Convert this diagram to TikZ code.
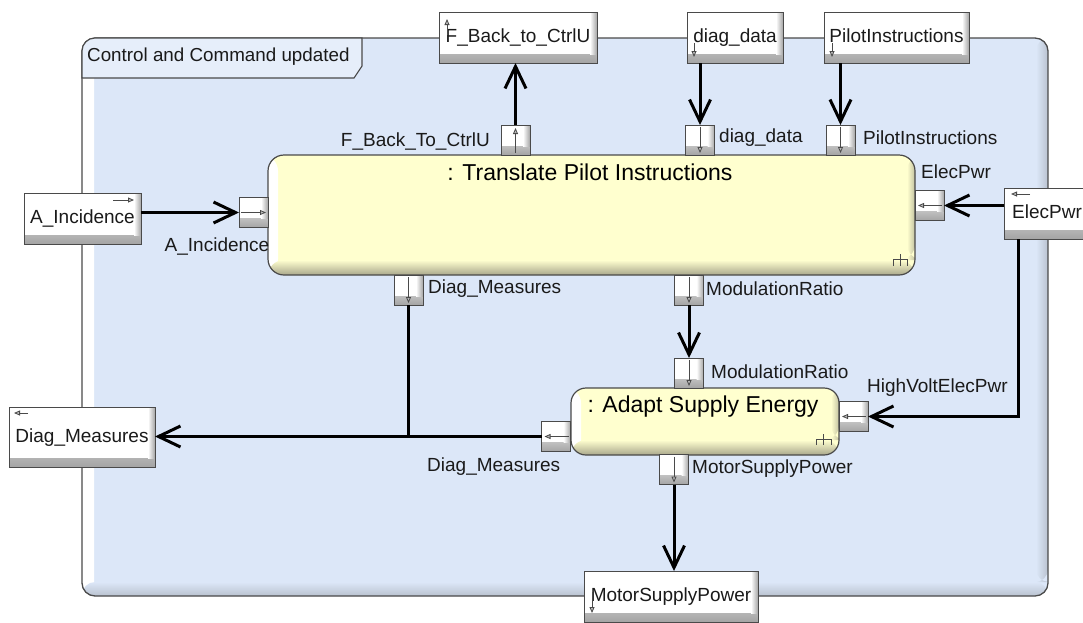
\documentclass[tikz,border=0pt]{standalone}
\usepackage{fontspec}
\setmainfont{Liberation Sans}
\usetikzlibrary{arrows.meta,calc}

\definecolor{ccblue}{HTML}{DCE7F8}
\definecolor{ccshade}{HTML}{B9C2CF}
\definecolor{blkyellow}{HTML}{FFFFCF}
\definecolor{blkshade}{HTML}{A9A78C}
\definecolor{edgegray}{HTML}{4A4A4A}
\definecolor{portshade}{HTML}{A4A4A4}
\definecolor{txt}{HTML}{1A1A1A}

\newcommand{\lblfont}{\fontsize{19}{22}\selectfont}
\newcommand{\ttlfont}{\fontsize{23}{26}\selectfont}

\tikzset{
  % white bevelled box used for boundary ports and block ports
  bevelbox/.style={draw=edgegray, line width=1pt, fill=white, inner sep=0pt, outer sep=0pt,
    path picture={
      \shade[top color=white, bottom color=portshade]
        ([yshift=9pt]path picture bounding box.south west) rectangle (path picture bounding box.south east);
      \shade[left color=white, right color=portshade]
        ([xshift=-7pt]path picture bounding box.north east) rectangle ([yshift=9pt]path picture bounding box.south east);
    }},
  extport/.style={bevelbox, minimum height=51pt, text=txt, font=\lblfont, text height=14pt, text depth=4pt},
  blkport/.style={bevelbox, minimum width=29pt, minimum height=30pt},
  % yellow part blocks
  partblock/.style={draw=edgegray, line width=1.2pt, fill=blkyellow, rounded corners=16pt,
    inner sep=0pt, outer sep=0pt,
    path picture={
      \shade[left color=white, right color=blkyellow]
        (path picture bounding box.south west) rectangle ([xshift=10pt]path picture bounding box.north west);
      \shade[top color=blkyellow, bottom color=blkshade]
        ([yshift=15pt]path picture bounding box.south west) rectangle (path picture bounding box.south east);
      \shade[left color=blkyellow, right color=blkshade!70!blkyellow]
        ([xshift=-8pt]path picture bounding box.north east) rectangle ([yshift=15pt]path picture bounding box.south east);
    }},
  flow/.style={line width=3pt, black, -{Straight Barb[length=22pt,width=21pt]}},
  plainflow/.style={line width=3pt, black},
  icon/.style={draw=edgegray, line width=0.8pt, -{Triangle[length=6pt,width=5pt,fill=gray!55]}},
  rake/.style={draw=edgegray, line width=1pt},
  lbl/.style={font=\lblfont, text=txt, inner sep=0pt},
  ttl/.style={font=\ttlfont, text=black, inner sep=0pt},
}

\begin{document}
\begin{tikzpicture}[x=1pt,y=-1pt]
\useasboundingbox (0,0) rectangle (1083,622);

% ---- enclosing structure "Control and Command updated"
\node[draw=edgegray, line width=1.3pt, fill=ccblue, rounded corners=13pt,
      minimum width=966pt, minimum height=558pt, inner sep=0pt, outer sep=0pt, anchor=north west,
      path picture={
        \shade[left color=white, right color=ccblue]
          (path picture bounding box.south west) rectangle ([xshift=12pt]path picture bounding box.north west);
        \shade[top color=ccblue, bottom color=ccshade]
          ([yshift=14pt]path picture bounding box.south west) rectangle (path picture bounding box.south east);
        \shade[left color=ccblue, right color=ccshade]
          ([xshift=-12pt]path picture bounding box.north east) rectangle ([yshift=14pt]path picture bounding box.south east);
      }] (cc) at (82,38) {};
\draw[draw=edgegray, line width=1.1pt, fill=ccblue!70!white]
  (82,78) [rounded corners=13pt] -- (82,38) [sharp corners] -- (362,38) -- (362,66) -- (354,78) -- cycle;
\node[lbl, anchor=west, font=\fontsize{18.8}{21}\selectfont] (cctitle) at (87,57) {Control and Command updated};

% ---- part blocks
\node[partblock, minimum width=647pt, minimum height=120pt] (tpi) at (591.5,215) {};
\node[ttl] (tpititle) at (590,172) {: Translate Pilot Instructions};
\draw[rake] ([xshift=-22pt,yshift=9pt]tpi.south east) |- ([xshift=-8pt,yshift=16pt]tpi.south east) -- ([xshift=-8pt,yshift=9pt]tpi.south east);
\draw[rake] ([xshift=-15pt,yshift=9pt]tpi.south east) -- ([xshift=-15pt,yshift=21pt]tpi.south east);

\node[partblock, minimum width=268pt, minimum height=67pt, rounded corners=15pt] (ase) at (705,421.5) {};
\node[ttl] (asetitle) at (703,407) {: Adapt Supply Energy};
\draw[rake] ([xshift=-23pt,yshift=10pt]ase.south east) |- ([xshift=-8pt,yshift=16pt]ase.south east) -- ([xshift=-8pt,yshift=10pt]ase.south east);
\draw[rake] ([xshift=-15.5pt,yshift=10pt]ase.south east) -- ([xshift=-15.5pt,yshift=21pt]ase.south east);

% ---- ports of Translate Pilot Instructions
\node[blkport] (pai) at (253.5,212.5) {};
\draw[icon] ([xshift=2pt]pai.west) -- ([xshift=-2pt]pai.east);
\node[blkport] (pfb) at (515.5,140) {};
\draw[icon] ([yshift=2pt]pfb.south) -- ([yshift=-3pt]pfb.north);
\node[blkport] (pdd) at (700,140) {};
\draw[icon] ([yshift=-2pt]pdd.north) -- ([yshift=2pt]pdd.south);
\node[blkport] (ppi) at (840.5,140) {};
\draw[icon] ([yshift=-2pt]ppi.north) -- ([yshift=2pt]ppi.south);
\node[blkport] (pep) at (929.5,205.5) {};
\draw[icon] ([xshift=-2pt]pep.east) -- ([xshift=3pt]pep.west);
\node[blkport] (pdm1) at (408.5,290) {};
\draw[icon] ([yshift=-2pt]pdm1.north) -- ([yshift=2pt]pdm1.south);
\node[blkport] (pmr1) at (689,290) {};
\draw[icon] ([yshift=-2pt]pmr1.north) -- ([yshift=2pt]pmr1.south);

% ---- ports of Adapt Supply Energy
\node[blkport] (pmr2) at (689,373) {};
\draw[icon] ([yshift=-2pt]pmr2.north) -- ([yshift=2pt]pmr2.south);
\node[blkport] (pdm2) at (556,436.5) {};
\draw[icon] ([xshift=-2pt]pdm2.east) -- ([xshift=3pt]pdm2.west);
\node[blkport] (phv) at (853.5,416.5) {};
\draw[icon] ([xshift=-2pt]phv.east) -- ([xshift=3pt]phv.west);
\node[blkport] (pms) at (674,469.5) {};
\draw[icon] ([yshift=-2pt]pms.north) -- ([yshift=2pt]pms.south);

% ---- boundary ports
\node[extport, minimum width=158pt] (fb) at (518,37.5) {F\_Back\_to\_CtrlU};
\draw[icon] (447,35) -- (447,19);
\node[extport, minimum width=96pt] (dd) at (735,37.5) {diag\_data};
\draw[icon] (694,43) -- (694,57);
\node[extport, minimum width=145pt] (pi) at (896.5,37.5) {PilotInstructions};
\draw[icon] (832,43) -- (832,57);
\node[extport, minimum width=117pt] (ai) at (82.5,218.5) {A\_Incidence};
\draw[icon] (113,200) -- (134,200);
\node[extport, minimum width=86pt] (ep) at (1047,213.5) {ElecPwr};
\draw[icon] (1030,194) -- (1011,194);
\node[extport, minimum width=146pt, minimum height=60pt] (dm) at (82,437) {Diag\_Measures};
\draw[icon] (28,413) -- (14,413);
\node[extport, minimum width=174pt] (ms) at (671,596.5) {MotorSupplyPower};
\draw[icon] (592,592) -- (592,613);

% ---- connectors
\draw[flow] (ai.east |- pai.west) -- (pai.west);
\draw[flow] (pfb.north) -- (pfb.north |- fb.south);
\draw[flow] (pdd.north |- dd.south) -- (pdd.north);
\draw[flow] (ppi.north |- pi.south) -- (ppi.north);
\draw[flow] (ep.west |- pep.east) -- (pep.east);
\coordinate (hvbend) at (1018,416.5);
\draw[flow] (hvbend |- ep.south) -- (hvbend) -- (phv.east);
\draw[flow] (pmr1.south) -- (pmr2.north);
\draw[flow] (pdm2.west) -- (dm.east |- pdm2.west);
\draw[plainflow] (pdm1.south) -- (pdm1.south |- pdm2.west);
\draw[flow] (pms.south) -- (pms.south |- ms.north);

% ---- port labels
\node[lbl, anchor=east] (lfb) at (490,141) {F\_Back\_To\_CtrlU};
\node[lbl, anchor=west] (ldd) at (719,138) {diag\_data};
\node[lbl, anchor=west] (lpi) at (863,138) {PilotInstructions};
\node[lbl, anchor=west] (lep) at (921,172) {ElecPwr};
\node[lbl] (lai) at (217,246) {A\_Incidence};
\node[lbl, anchor=west] (ldm1) at (428,289) {Diag\_Measures};
\node[lbl, anchor=west] (lmr1) at (706,289) {ModulationRatio};
\node[lbl, anchor=west] (lmr2) at (711,372) {ModulationRatio};
\node[lbl, anchor=west] (lhv) at (867,388) {HighVoltElecPwr};
\node[lbl, anchor=west] (ldm2) at (427,467) {Diag\_Measures};
\node[lbl, anchor=west] (lms) at (692,469) {MotorSupplyPower};
\end{tikzpicture}
\end{document}
